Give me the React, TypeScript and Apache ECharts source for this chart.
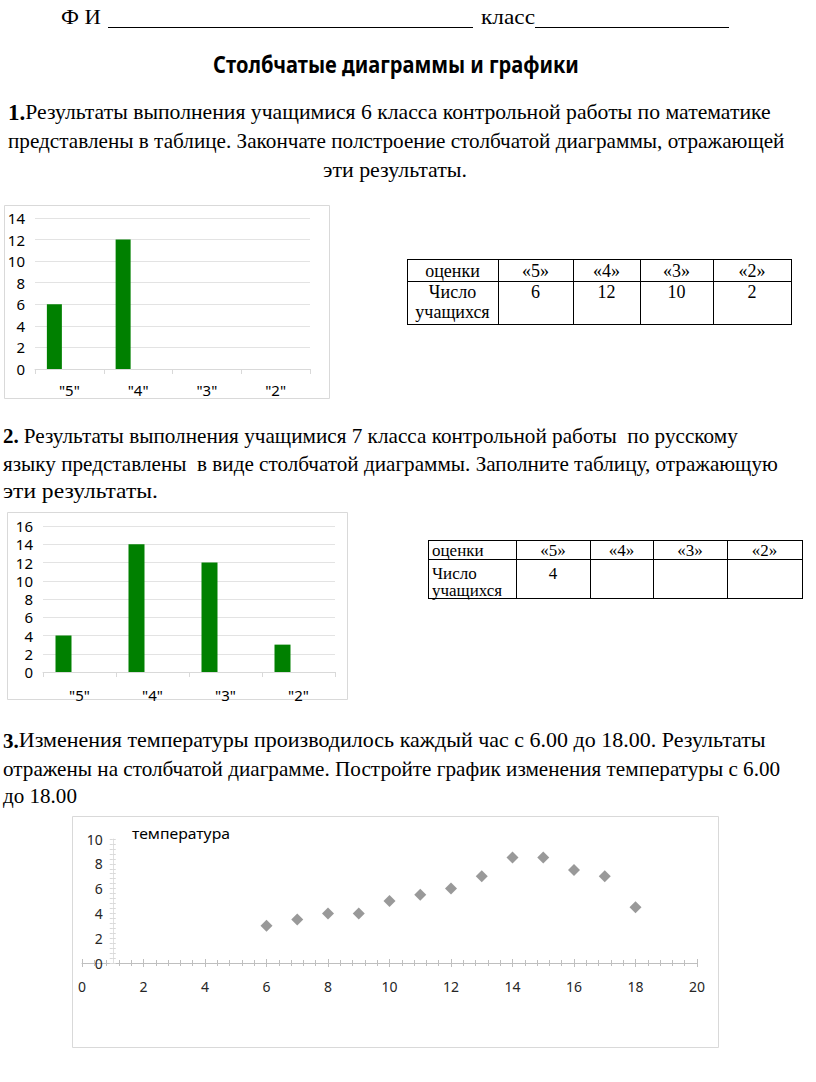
import React, { useEffect, useRef } from 'react';
import * as echarts from 'echarts';

// ---------- data ----------
const gradeLabels = ['"5"', '"4"', '"3"', '"2"'];
const math6Bars: (number | string)[] = [6, 12, '-', '-'];
const tableHeader = ['оценки', '«5»', '«4»', '«3»', '«2»'];
const rowLabel = ['Число', 'учащихся'];
const math6Table = ['6', '12', '10', '2'];
const russian7Bars = [4, 14, 12, 3];
const russian7Table = ['4', '', '', ''];
const hours = [6, 7, 8, 9, 10, 11, 12, 13, 14, 15, 16, 17, 18];
const temperatures = [3, 3.5, 4, 4, 5, 5.5, 6, 7, 8.5, 8.5, 7.5, 7, 4.5];
const chart3Title = 'температура';

// ---------- texts ----------
const headerFI = 'Ф И';
const headerClass = 'класс';
const pageTitle = 'Столбчатые диаграммы и графики';
const p1 = [
  'Результаты выполнения учащимися 6 класса контрольной работы по математике',
  'представлены в таблице. Закончате полстроение столбчатой диаграммы, отражающей',
  'эти результаты.',
];
const p2 = [
  'Результаты выполнения учащимися 7 класса контрольной работы  по русскому',
  'языку представлены  в виде столбчатой диаграммы. Заполните таблицу, отражающую',
  'эти результаты.',
];
const p3 = [
  'Изменения температуры производилось каждый час с 6.00 до 18.00. Результаты',
  'отражены на столбчатой диаграмме. Постройте график изменения температуры с 6.00',
  'до 18.00',
];

const SERIF = '"Liberation Serif", "Times New Roman", serif';
const SANS = '"Noto Sans", "Open Sans", sans-serif';

let mctx: CanvasRenderingContext2D | null = null;
function measure(text: string, font: string): number {
  if (!mctx) mctx = document.createElement('canvas').getContext('2d');
  mctx!.font = font;
  return mctx!.measureText(text).width;
}

function txt(
  text: string,
  x: number,
  cy: number,
  font: string,
  opts: { width?: number; align?: 'left' | 'center' | 'right'; fill?: string } = {}
): any {
  const align = opts.align || 'left';
  const natural = measure(text, font);
  const sx = opts.width ? opts.width / natural : 1;
  return {
    type: 'text',
    x,
    y: cy,
    scaleX: sx,
    silent: true,
    style: {
      text,
      x: 0,
      y: 0,
      font,
      fill: opts.fill || '#000',
      align,
      verticalAlign: 'middle',
      textAlign: align,
      textVerticalAlign: 'middle',
    },
  };
}

function line(x1: number, y1: number, x2: number, y2: number, stroke = '#000', lw = 1): any {
  return { type: 'line', silent: true, shape: { x1, y1, x2, y2 }, style: { stroke, lineWidth: lw } };
}

function rect(x: number, y: number, w: number, h: number, stroke: string): any {
  return { type: 'rect', silent: true, z: -1, shape: { x, y, width: w, height: h }, style: { fill: 'none', stroke, lineWidth: 1 } };
}

function boldPrefixLine(prefix: string, prefixFont: string, rest: string, restFont: string, x0: number, x1: number, cy: number, gap = 0): any[] {
  const pw = measure(prefix, prefixFont);
  const start = x0 + pw + gap;
  return [txt(prefix, x0, cy, prefixFont), txt(rest, start, cy, restFont, { width: x1 - start })];
}

function table(cols: number[], rows: number[], header: string[], values: string[], font: string, firstColLeft: boolean, cy: number[]): any[] {
  const els: any[] = [];
  rows.forEach((r) => els.push(line(cols[0], r + 0.5, cols[cols.length - 1], r + 0.5)));
  cols.forEach((c) => els.push(line(c + 0.5, rows[0], c + 0.5, rows[rows.length - 1] + 1)));
  const c0 = firstColLeft ? cols[0] + 4 : (cols[0] + cols[1]) / 2;
  const a0 = firstColLeft ? 'left' : 'center';
  els.push(txt(header[0], c0, cy[0], font, { align: a0 as any }));
  els.push(txt(rowLabel[0], c0, cy[1], font, { align: a0 as any }));
  els.push(txt(rowLabel[1], c0, cy[2], font, { align: a0 as any }));
  for (let i = 1; i < header.length; i++) {
    const cx = (cols[i] + cols[i + 1]) / 2;
    els.push(txt(header[i], cx, cy[0], font, { align: 'center' }));
    if (values[i - 1]) els.push(txt(values[i - 1], cx, cy[1], font, { align: 'center' }));
  }
  return els;
}

export default function App() {
  const ref = useRef<HTMLDivElement>(null);
  useEffect(() => {
    if (!ref.current) return;
    const chart = echarts.init(ref.current, undefined, { renderer: 'svg' });

    const bodyFont = `21px ${SERIF}`;
    const boldFont = `bold 21px ${SERIF}`;
    const graphic: any[] = [];
    // header
    graphic.push(txt(headerFI, 61, 17, `22px ${SERIF}`, { width: 40 }));
    graphic.push(line(108, 27.5, 473, 27.5));
    graphic.push(txt(headerClass, 481, 17, `22px ${SERIF}`, { width: 54 }));
    graphic.push(line(535, 27.5, 729, 27.5));
    graphic.push(txt(pageTitle, 396, 63, `bold 24px ${SANS}`, { width: 366, align: 'center' }));
    // paragraph 1
    graphic.push(...boldPrefixLine('1.', `bold 23px ${SERIF}`, p1[0], bodyFont, 8, 771, 112));
    graphic.push(txt(p1[1], 8, 141, bodyFont, { width: 777 }));
    graphic.push(txt(p1[2], 395, 170, bodyFont, { width: 144, align: 'center' }));
    // paragraph 2
    graphic.push(...boldPrefixLine('2.', boldFont, p2[0], bodyFont, 3, 738, 436, 5));
    graphic.push(txt(p2[1], 3, 464, bodyFont, { width: 775 }));
    graphic.push(txt(p2[2], 3, 491, bodyFont, { width: 155 }));
    // paragraph 3
    graphic.push(...boldPrefixLine('3.', boldFont, p3[0], bodyFont, 3, 766, 740.5));
    graphic.push(txt(p3[1], 3, 769.5, bodyFont, { width: 777 }));
    graphic.push(txt(p3[2], 3, 796.5, bodyFont, { width: 74 }));
    // tables
    graphic.push(...table([407, 498, 573, 640, 713, 791], [259, 281, 324], tableHeader, math6Table, `18px ${SERIF}`, false, [271, 292, 312]));
    graphic.push(...table([428, 516, 590, 653, 727, 802], [540, 559, 598], tableHeader, russian7Table, `17px ${SERIF}`, true, [550, 573, 590]));
    // chart borders
    graphic.push(rect(4.5, 205.5, 325, 193, '#d9d9d9'));
    graphic.push(rect(7.5, 512.5, 340, 187, '#d9d9d9'));
    graphic.push(rect(72.5, 816.5, 646, 231, '#d9d9d9'));
    graphic.push(txt(chart3Title, 132, 833, `14px ${SANS}`, { width: 98 }));

    const catAxis = (gridIndex: number, margin: number) => ({
      gridIndex,
      type: 'category',
      data: gradeLabels,
      boundaryGap: true,
      axisLine: { show: true, lineStyle: { color: '#d9d9d9' } },
      axisTick: { show: true, length: 5, lineStyle: { color: '#d9d9d9' } },
      axisLabel: { margin, fontFamily: SANS, fontSize: 15, color: '#000' },
      splitLine: { show: false },
    });
    const valAxis = (gridIndex: number, max: number) => ({
      gridIndex,
      type: 'value',
      min: 0,
      max,
      interval: 2,
      axisLine: { show: false },
      axisTick: { show: false },
      axisLabel: { margin: 10, fontFamily: SANS, fontSize: 15, color: '#000' },
      splitLine: { show: true, lineStyle: { color: '#e3e3e3' } },
    });
    const ghost = (xi: number, w: number) => ({
      type: 'bar',
      xAxisIndex: xi,
      yAxisIndex: xi,
      barWidth: w,
      barGap: '0%',
      data: ['-', '-', '-', '-'],
      silent: true,
    });

    const option: any = {
      animation: false,
      graphic,
      grid: [
        { left: 35, top: 218, width: 275, height: 151, containLabel: false },
        { left: 43, top: 526, width: 292, height: 146, containLabel: false },
        { left: 82, top: 839, width: 615, height: 124, containLabel: false },
      ],
      xAxis: [
        catAxis(0, 13),
        catAxis(1, 15),
        {
          gridIndex: 2,
          type: 'value',
          min: 0,
          max: 20,
          interval: 2,
          position: 'bottom',
          axisLine: { show: true, onZero: false, lineStyle: { color: '#bfbfbf' } },
          axisTick: { show: true, length: 4, lineStyle: { color: '#bfbfbf' } },
          minorTick: { show: true, splitNumber: 5, length: 3, lineStyle: { color: '#bfbfbf' } },
          axisLabel: { margin: 16, fontFamily: SANS, fontSize: 14, color: '#262626' },
          splitLine: { show: false },
        },
        {
          gridIndex: 2,
          type: 'value',
          min: 0,
          max: 20,
          interval: 2,
          position: 'bottom',
          axisLine: { show: false, onZero: false },
          axisTick: { show: true, inside: true, length: 4, lineStyle: { color: '#bfbfbf' } },
          minorTick: { show: true, splitNumber: 5, length: 3, lineStyle: { color: '#bfbfbf' } },
          axisLabel: { show: false },
          splitLine: { show: false },
        },
      ],
      yAxis: [
        valAxis(0, 14),
        valAxis(1, 16),
        {
          gridIndex: 2,
          type: 'value',
          min: 0,
          max: 10,
          interval: 2,
          position: 'left',
          offset: -30.75,
          axisLine: { show: true, onZero: false, lineStyle: { color: '#e0e0e0' } },
          axisTick: { show: true, length: 3, lineStyle: { color: '#d9d9d9' } },
          minorTick: { show: true, splitNumber: 5, length: 3, lineStyle: { color: '#d9d9d9' } },
          axisLabel: { margin: 10, fontFamily: SANS, fontSize: 14, color: '#262626' },
          splitLine: { show: false },
        },
        {
          gridIndex: 2,
          type: 'value',
          min: 0,
          max: 10,
          interval: 2,
          position: 'left',
          offset: -30.75,
          axisLine: { show: false, onZero: false },
          axisTick: { show: true, inside: true, length: 3, lineStyle: { color: '#d9d9d9' } },
          minorTick: { show: true, splitNumber: 5, length: 3, lineStyle: { color: '#d9d9d9' } },
          axisLabel: { show: false },
          splitLine: { show: false },
        },
      ],
      series: [
        {
          type: 'bar',
          xAxisIndex: 0,
          yAxisIndex: 0,
          barWidth: 15,
          barGap: '0%',
          itemStyle: { color: '#008000' },
          data: math6Bars,
        },
        ghost(0, 15),
        ghost(0, 15),
        {
          type: 'bar',
          xAxisIndex: 1,
          yAxisIndex: 1,
          barWidth: 16,
          barGap: '0%',
          itemStyle: { color: '#008000' },
          data: russian7Bars,
        },
        ghost(1, 16),
        ghost(1, 16),
        {
          type: 'scatter',
          xAxisIndex: 2,
          yAxisIndex: 2,
          symbol: 'diamond',
          symbolSize: 12,
          itemStyle: { color: '#7f7f7f' },
          data: hours.map((h, i) => [h, temperatures[i]]),
        },
      ],
    };
    chart.setOption(option);
    return () => chart.dispose();
  }, []);

  return (
    <div
      ref={ref}
      style={{ position: 'absolute', left: 0, top: 0, width: 816, height: 1082, background: '#fff' }}
    />
  );
}
